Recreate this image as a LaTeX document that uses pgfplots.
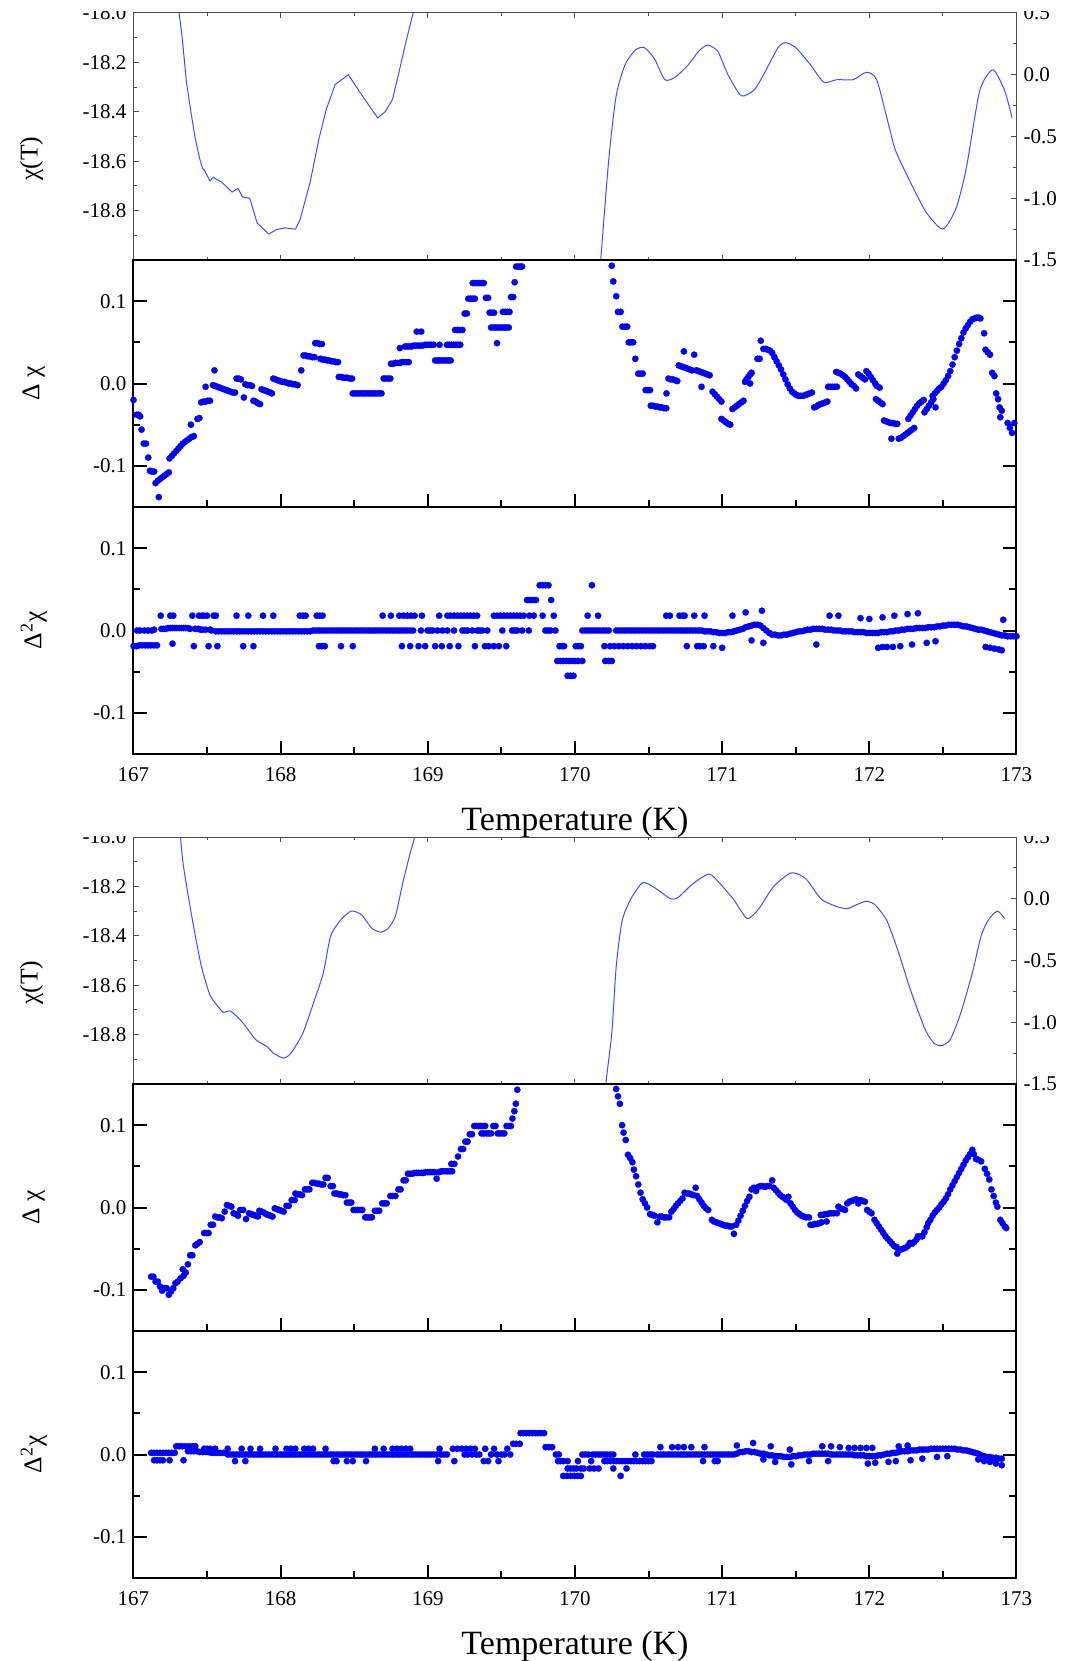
\documentclass[border=0pt]{standalone}
\usepackage{fontspec}
\setmainfont{Liberation Serif}
\usepackage{pgfplots}
\pgfplotsset{compat=1.18}
\definecolor{chiline}{RGB}{60,80,255}
\pgfkeys{/pgf/number format/assume math mode=true}
\pgfplotsset{
  base/.style={scale only axis, width=441.5pt, height=123.5pt, xmin=167, xmax=173,
    xtick={167,168,169,170,171,172,173}, minor xtick={167.5,168.5,169.5,170.5,171.5,172.5},
    tick align=inside, anchor=south west,
    tick label style={font=\fontsize{10.5}{12}\selectfont},
    xticklabel style={yshift=-3.3pt},
    yticklabel style={/pgf/number format/.cd, fixed, fixed zerofill, precision=1},
    xticklabels={167,168,169,170,171,172,173}},
  toppanel/.style={base, axis line style={black!70, line width=0.5pt},
    tick style={black!70, line width=0.5pt}, major tick length=2.6pt, minor tick length=1.6pt},
  dpanel/.style={base, axis line style={black, line width=1pt},
    tick style={black, line width=1pt}, major tick length=6.5pt, minor tick length=3.5pt,
    xtick pos=left, ytick pos=both, yticklabel pos=left, ymin=-0.15, ymax=0.15,
    ytick={-0.1,0,0.1}, minor ytick={-0.05,0.05}},
  dots/.style={only marks, mark=*, mark size=1.6pt, color=blue, mark options={draw=blue, fill=blue, line width=0.1pt}},
  chi/.style={no marks, color=chiline, line width=0.5pt},
  ylab/.style={ylabel style={at={(axis description cs:#1)}, anchor=center, font=\fontsize{12.8}{15}\selectfont}},
  xlab/.style={xlabel style={at={(axis description cs:0.5,-0.275)}, anchor=center, font=\fontsize{17}{20}\selectfont}},
}
\begin{document}
\begin{tikzpicture}
% ================= GROUP 1 =================
\begin{axis}[toppanel, at={(0pt,247pt)}, ymin=-19, ymax=-18,
  ytick={-18.8,-18.6,-18.4,-18.2,-18.0}, minor ytick={-18.9,-18.7,-18.5,-18.3,-18.1},
  ytick pos=left, xtick pos=both, xticklabels={}, ylabel={χ(T)}, ylab={-0.1155,0.41}]
\addplot[chi] coordinates {(167.25,-17.60) (167.31,-18.00) (167.33,-18.095) (167.36,-18.28) (167.39,-18.40) (167.42,-18.51) (167.45,-18.59) (167.47,-18.63) (167.48,-18.635) (167.52,-18.68) (167.54,-18.665) (167.60,-18.685) (167.67,-18.725) (167.71,-18.71) (167.74,-18.745) (167.79,-18.75) (167.84,-18.85) (167.92,-18.895) (167.97,-18.877) (168.03,-18.87) (168.10,-18.875) (168.13,-18.84) (168.20,-18.686) (168.26,-18.51) (168.31,-18.39) (168.37,-18.29) (168.46,-18.25) (168.56,-18.34) (168.66,-18.425) (168.71,-18.40) (168.76,-18.35) (168.80,-18.25) (168.85,-18.12) (168.90,-18.00) (168.95,-17.85)};
\addplot[chi, smooth, tension=0.4] coordinates {(170.15,-19.2) (170.175,-19.0) (170.23,-18.59) (170.28,-18.335) (170.34,-18.21) (170.41,-18.15) (170.47,-18.14) (170.54,-18.185) (170.61,-18.27) (170.68,-18.26) (170.77,-18.21) (170.84,-18.155) (170.90,-18.13) (170.97,-18.155) (171.04,-18.25) (171.13,-18.335) (171.22,-18.31) (171.29,-18.24) (171.38,-18.14) (171.43,-18.12) (171.50,-18.14) (171.60,-18.21) (171.69,-18.28) (171.78,-18.27) (171.89,-18.27) (171.98,-18.24) (172.05,-18.27) (172.13,-18.45) (172.18,-18.56) (172.30,-18.71) (172.39,-18.81) (172.50,-18.875) (172.59,-18.79) (172.66,-18.625) (172.75,-18.315) (172.84,-18.23) (172.92,-18.315) (172.97,-18.425)};
\end{axis}
\begin{axis}[toppanel, at={(0pt,247pt)}, ymin=-1.5, ymax=0.5, hide x axis, axis y line*=right,
  ytick={-1.5,-1,-0.5,0,0.5}, minor ytick={-1.25,-0.75,-0.25,0.25}]
\end{axis}
\begin{axis}[dpanel, at={(0pt,123.5pt)}, xticklabels={}, ylabel={Δ χ}, ylab={-0.113,0.5}]
\addplot[dots] coordinates {
(167.000,-0.020)(167.020,-0.038)(167.035,-0.038)(167.045,-0.040)(167.055,-0.056)(167.070,-0.073)(167.085,-0.073)(167.100,-0.090)(167.112,-0.106)(167.125,-0.107)(167.140,-0.107)(167.150,-0.121)(167.165,-0.118)(167.172,-0.138)(167.180,-0.116)(167.195,-0.114)(167.210,-0.112)(167.225,-0.110)(167.240,-0.108)
(167.245,-0.091)(167.260,-0.088)(167.275,-0.085)(167.290,-0.082)(167.305,-0.079)(167.320,-0.076)(167.335,-0.073)(167.350,-0.071)(167.365,-0.069)(167.380,-0.067)(167.395,-0.065)(167.410,-0.064)(167.390,-0.050)(167.435,-0.043)(167.448,-0.042)
(167.460,-0.023)(167.475,-0.022)(167.490,-0.022)(167.505,-0.021)(167.520,-0.021)(167.490,-0.004)(167.550,0.016)
(167.540,-0.002)(167.555,-0.003)(167.570,-0.004)(167.585,-0.005)(167.600,-0.006)(167.615,-0.007)(167.630,-0.008)(167.645,-0.009)(167.660,-0.010)(167.675,-0.011)(167.690,-0.011)
(167.700,0.006)(167.715,0.006)(167.730,0.005)(167.750,-0.017)(167.760,-0.001)(167.775,-0.002)(167.790,-0.002)(167.805,-0.003)
(167.815,-0.021)(167.830,-0.022)(167.845,-0.024)(167.860,-0.025)(167.870,-0.007)(167.885,-0.008)(167.900,-0.009)(167.915,-0.010)(167.930,-0.011)(167.940,-0.012)
(167.950,0.006)(167.965,0.005)(167.980,0.004)(167.995,0.003)(168.010,0.002)(168.025,0.002)(168.040,0.001)(168.055,0.000)(168.070,0.000)(168.085,-0.001)(168.100,-0.001)(168.115,-0.002)
(168.140,0.016)(168.155,0.034)(168.170,0.034)(168.185,0.033)(168.200,0.033)(168.215,0.032)(168.230,0.032)(168.235,0.049)(168.250,0.049)(168.265,0.048)(168.280,0.048)
(168.270,0.030)(168.285,0.029)(168.300,0.029)(168.315,0.028)(168.330,0.028)(168.345,0.027)(168.360,0.027)(168.375,0.026)(168.390,0.026)
(168.395,0.008)(168.410,0.008)(168.425,0.007)(168.440,0.007)(168.455,0.007)(168.470,0.006)(168.485,0.006)
(168.490,-0.012)(168.505,-0.012)(168.520,-0.012)(168.535,-0.012)(168.550,-0.012)(168.565,-0.012)(168.580,-0.012)(168.595,-0.012)(168.610,-0.012)(168.625,-0.012)(168.640,-0.012)(168.655,-0.012)(168.670,-0.012)(168.685,-0.012)
(168.700,0.006)(168.715,0.006)(168.730,0.006)(168.745,0.006)
(168.750,0.024)(168.765,0.024)(168.780,0.025)(168.795,0.025)(168.810,0.025)(168.825,0.026)(168.840,0.026)(168.855,0.026)(168.870,0.026)
(168.810,0.043)(168.845,0.045)(168.860,0.045)(168.875,0.045)(168.890,0.045)(168.905,0.046)(168.920,0.046)(168.935,0.046)(168.950,0.046)(168.965,0.046)(168.980,0.047)(168.995,0.047)(169.010,0.047)(169.025,0.047)(169.040,0.047)
(168.925,0.063)(168.955,0.063)
(169.050,0.028)(169.065,0.028)(169.080,0.028)(169.095,0.028)(169.110,0.028)(169.125,0.028)(169.140,0.028)(169.155,0.028)
(169.080,0.047)(169.130,0.047)(169.145,0.047)(169.160,0.047)(169.175,0.047)(169.190,0.047)(169.205,0.047)(169.220,0.047)
(169.185,0.065)(169.200,0.065)(169.215,0.065)(169.235,0.065)(169.250,0.085)(169.265,0.085)
(169.275,0.103)(169.290,0.103)(169.305,0.103)(169.320,0.103)
(169.305,0.122)(169.320,0.122)(169.335,0.122)(169.350,0.122)(169.365,0.122)(169.380,0.122)
(169.395,0.104)(169.410,0.104)(169.420,0.086)(169.435,0.086)(169.450,0.086)
(169.430,0.068)(169.445,0.068)(169.460,0.068)(169.475,0.068)(169.490,0.068)(169.505,0.068)(169.520,0.068)(169.535,0.068)(169.550,0.068)
(169.470,0.049)(169.510,0.087)(169.525,0.087)(169.540,0.087)(169.555,0.087)(169.565,0.105)(169.580,0.105)(169.590,0.123)
(169.600,0.142)(169.615,0.142)(169.630,0.142)(169.640,0.142)
(170.250,0.143)(170.260,0.124)(170.280,0.106)(170.292,0.087)(170.310,0.087)(170.322,0.069)(170.340,0.069)(170.355,0.069)
(170.365,0.050)(170.380,0.050)(170.395,0.050)(170.410,0.030)(170.430,0.012)(170.445,0.012)(170.460,0.012)
(170.480,-0.008)(170.495,-0.008)(170.510,-0.008)
(170.515,-0.027)(170.530,-0.027)(170.545,-0.028)(170.560,-0.028)(170.575,-0.029)(170.590,-0.029)(170.605,-0.030)(170.620,-0.030)(170.622,-0.012)
(170.635,0.006)(170.650,0.005)(170.665,0.005)(170.680,0.004)(170.695,0.003)
(170.705,0.022)(170.720,0.021)(170.735,0.020)(170.750,0.019)(170.765,0.018)(170.780,0.017)(170.795,0.016)(170.740,0.039)(170.810,0.035)
(170.825,0.016)(170.840,0.015)(170.855,0.014)(170.870,0.013)(170.885,0.012)(170.900,0.011)(170.915,0.010)(170.860,-0.004)
(170.935,-0.010)(170.950,-0.013)(170.965,-0.016)(170.980,-0.019)(170.995,-0.022)
(170.995,-0.043)(171.010,-0.045)(171.025,-0.047)(171.040,-0.049)(171.055,-0.050)
(171.070,-0.031)(171.085,-0.029)(171.100,-0.027)(171.115,-0.025)(171.130,-0.023)(171.145,-0.021)
(171.155,0.002)(171.165,0.005)(171.178,0.008)(171.190,0.011)(171.200,0.013)(171.190,0.000)(171.240,0.030)(171.255,0.030)(171.262,0.052)
(171.280,0.042)(171.295,0.042)(171.310,0.041)(171.325,0.040)(171.340,0.037)(171.355,0.032)(171.370,0.027)(171.385,0.022)(171.400,0.017)(171.415,0.011)(171.430,0.005)(171.445,-0.001)(171.460,-0.006)(171.475,-0.010)(171.490,-0.012)(171.505,-0.014)(171.520,-0.015)(171.535,-0.015)(171.550,-0.015)(171.565,-0.014)(171.580,-0.013)(171.595,-0.012)(171.610,-0.011)
(171.625,-0.029)(171.640,-0.028)(171.655,-0.026)(171.670,-0.025)(171.685,-0.024)(171.700,-0.023)(171.715,-0.022)
(171.720,-0.004)(171.735,-0.004)(171.750,-0.004)(171.765,-0.004)(171.780,-0.004)
(171.775,0.014)(171.790,0.013)(171.805,0.012)(171.820,0.010)(171.835,0.008)(171.850,0.005)(171.865,0.002)(171.880,-0.001)(171.895,-0.003)(171.910,-0.006)
(171.925,0.011)(171.940,0.009)(171.955,0.007)(171.970,0.005)(171.980,0.015)(171.995,0.012)(172.010,0.008)(172.025,0.004)(172.040,0.000)(172.050,-0.003)(172.070,-0.005)
(172.045,-0.019)(172.060,-0.021)(172.075,-0.023)(172.090,-0.025)
(172.100,-0.045)(172.115,-0.046)(172.130,-0.047)(172.145,-0.048)(172.160,-0.048)(172.175,-0.049)(172.190,-0.049)
(172.150,-0.067)(172.200,-0.067)(172.215,-0.066)(172.230,-0.064)(172.245,-0.062)(172.260,-0.060)(172.275,-0.058)(172.290,-0.056)(172.305,-0.054)
(172.265,-0.043)(172.280,-0.039)(172.295,-0.035)(172.310,-0.031)(172.325,-0.027)(172.340,-0.024)(172.355,-0.022)(172.370,-0.020)
(172.375,-0.035)(172.390,-0.031)(172.405,-0.027)(172.420,-0.023)(172.435,-0.019)(172.450,-0.029)
(172.430,-0.015)(172.445,-0.012)(172.460,-0.009)(172.475,-0.006)(172.490,-0.004)(172.505,0.000)(172.520,0.004)(172.535,0.009)(172.550,0.015)(172.565,0.023)(172.580,0.032)(172.595,0.040)(172.610,0.048)(172.625,0.055)(172.640,0.062)(172.655,0.067)(172.670,0.071)(172.685,0.075)(172.700,0.078)(172.715,0.079)(172.730,0.080)(172.745,0.080)(172.755,0.079)
(172.780,0.061)(172.790,0.041)(172.805,0.038)(172.820,0.035)(172.835,0.013)(172.850,0.009)(172.862,-0.012)(172.875,-0.019)(172.885,-0.029)(172.900,-0.033)(172.890,-0.041)
(172.940,-0.048)(172.955,-0.054)(172.970,-0.060)(172.985,-0.048)};
\end{axis}
\begin{axis}[dpanel, at={(0pt,0pt)}, xlabel={Temperature (K)}, xlab, ylabel={Δ\textsuperscript{2}χ}, ylab={-0.113,0.5}]
\addplot[dots] coordinates {
(167.000,-0.019)(167.020,-0.019)(167.040,-0.018)(167.060,-0.018)(167.080,-0.018)(167.100,-0.018)(167.120,-0.018)(167.140,-0.018)(167.160,-0.018)
(167.025,0.000)(167.045,0.000)(167.075,0.000)(167.100,0.000)(167.125,0.000)(167.140,0.001)
(167.185,0.018)(167.190,0.002)(167.205,0.002)(167.220,0.002)(167.265,-0.016)(167.250,0.018)(167.270,0.018)
(167.235,0.003)(167.250,0.003)(167.265,0.003)(167.280,0.003)(167.295,0.003)(167.310,0.003)(167.325,0.003)(167.340,0.003)(167.355,0.003)(167.370,0.003)(167.385,0.002)
(167.400,0.018)(167.410,-0.019)
(167.420,0.002)(167.440,0.002)(167.455,0.001)(167.470,0.001)(167.490,0.001)(167.520,0.001)(167.530,0.000)
(167.445,0.018)(167.465,0.018)(167.480,0.018)(167.500,0.018)(167.510,-0.019)(167.545,0.018)(167.560,0.018)(167.570,-0.019)
(167.56,-0.001)(167.58,-0.001)(167.60,-0.001)(167.62,-0.001)(167.64,-0.001)(167.66,-0.001)(167.68,-0.001)(167.70,-0.001)(167.72,-0.001)(167.74,-0.001)(167.76,-0.001)(167.78,-0.001)(167.80,-0.001)(167.82,-0.001)(167.84,-0.001)(167.86,-0.001)(167.88,-0.001)(167.90,-0.001)(167.92,-0.001)(167.94,-0.001)(167.96,-0.001)(167.98,-0.001)(168.00,-0.001)(168.02,-0.001)(168.04,-0.001)(168.06,-0.001)(168.08,-0.001)(168.10,-0.001)(168.12,-0.001)(168.14,-0.001)(168.16,-0.001)(168.18,-0.001)(168.20,-0.001)
(167.700,0.018)(167.780,0.018)(167.880,0.018)(167.950,0.018)(167.745,-0.019)(167.815,-0.019)
(168.130,0.018)(168.150,0.018)(168.170,0.018)(168.245,0.018)(168.265,0.018)(168.285,0.018)
(168.260,-0.019)(168.280,-0.019)(168.300,-0.019)(168.410,-0.019)(168.490,-0.019)
(168.22,0.000)(168.24,0.000)(168.26,0.000)(168.28,0.000)(168.30,0.000)(168.32,0.000)(168.34,0.000)(168.36,0.000)(168.38,0.000)(168.40,0.000)(168.42,0.000)(168.44,0.000)(168.46,0.000)(168.48,0.000)(168.50,0.000)(168.52,0.000)(168.54,0.000)(168.56,0.000)(168.58,0.000)(168.60,0.000)(168.62,0.000)(168.64,0.000)(168.66,0.000)(168.68,0.000)(168.70,0.000)(168.72,0.000)(168.74,0.000)(168.76,0.000)(168.78,0.000)(168.80,0.000)(168.82,0.000)(168.84,0.000)(168.86,0.000)(168.88,0.000)(168.90,0.000)
(168.693,0.018)(168.749,0.018)(168.806,0.018)(168.835,0.018)(168.860,0.018)(168.885,0.018)(168.910,0.018)(168.960,0.018)
(168.824,-0.019)(168.880,-0.019)(168.937,-0.019)(168.982,-0.019)
(168.953,0.000)(168.998,0.000)(169.015,0.000)(169.032,0.000)(169.065,0.000)(169.099,0.000)(169.133,0.000)(169.178,0.000)(169.235,0.000)(169.252,0.000)(169.269,0.000)(169.302,0.000)(169.336,0.000)(169.353,0.000)(169.370,0.000)(169.404,0.000)(169.506,0.000)(169.573,0.000)(169.590,0.000)(169.607,0.000)(169.641,0.000)(169.686,0.000)(169.799,0.000)(169.816,0.000)(169.833,0.000)(169.867,0.000)
(169.077,0.018)(169.133,0.018)(169.155,0.018)(169.178,0.018)(169.200,0.018)(169.223,0.018)(169.245,0.018)(169.268,0.018)(169.290,0.018)(169.313,0.018)(169.335,0.018)
(169.449,0.018)(169.471,0.018)(169.494,0.018)(169.517,0.018)(169.539,0.018)(169.562,0.018)(169.584,0.018)(169.607,0.018)(169.629,0.018)(169.652,0.018)(169.690,0.018)(169.720,0.018)(169.780,0.018)(169.856,0.018)
(169.050,-0.019)(169.095,-0.019)(169.149,-0.019)(169.208,-0.019)(169.320,-0.019)(169.388,-0.019)(169.415,-0.019)(169.449,-0.019)(169.483,-0.019)(169.533,-0.019)
(169.674,0.037)(169.694,0.037)(169.714,0.037)(169.735,0.037)(169.838,0.037)
(169.760,0.055)(169.780,0.055)(169.800,0.055)(169.820,0.055)
(169.895,-0.019)(169.912,-0.019)(169.926,-0.019)(170.005,-0.019)(170.022,-0.019)(170.040,-0.019)
(169.880,-0.037)(169.900,-0.037)(169.920,-0.037)(169.940,-0.037)(169.960,-0.037)(169.980,-0.037)(170.000,-0.037)(170.020,-0.037)(170.050,-0.037)
(169.950,-0.055)(169.970,-0.055)(169.990,-0.055)
(170.05,0.000)(170.07,0.000)(170.09,0.000)(170.11,0.000)(170.13,0.000)(170.15,0.000)(170.17,0.000)(170.19,0.000)(170.21,0.000)(170.23,0.000)
(170.086,0.018)(170.157,0.018)(170.115,0.055)
(170.200,-0.019)(170.206,-0.037)(170.228,-0.037)(170.250,-0.037)
(170.238,-0.019)(170.268,-0.019)(170.298,-0.019)(170.328,-0.019)(170.358,-0.019)(170.388,-0.019)(170.418,-0.019)(170.448,-0.019)(170.478,-0.019)(170.508,-0.019)(170.530,-0.019)
(170.28,0.000)(170.30,0.000)(170.32,0.000)(170.34,0.000)(170.36,0.000)(170.38,0.000)(170.40,0.000)(170.42,0.000)(170.44,0.000)(170.46,0.000)(170.48,0.000)(170.50,0.000)(170.52,0.000)(170.54,0.000)(170.56,0.000)(170.58,0.000)(170.60,0.000)(170.62,0.000)(170.64,0.000)(170.66,0.000)(170.68,0.000)(170.70,0.000)(170.72,0.000)(170.74,0.000)(170.76,0.000)(170.78,0.000)(170.80,0.000)(170.82,0.000)(170.84,0.000)
(170.620,0.018)(170.645,0.018)(170.710,0.018)(170.730,0.018)(170.745,0.018)(170.810,0.018)(170.880,0.018)
(170.760,-0.019)(170.830,-0.019)(170.850,-0.019)(170.875,-0.019)(170.940,-0.019)(171.000,-0.021)
(170.86,0.000)(170.88,-0.001)(170.90,-0.001)(170.92,-0.001)(170.94,-0.002)(170.96,-0.002)(170.98,-0.003)(171.00,-0.003)(171.02,-0.003)(171.04,-0.002)(171.06,-0.002)(171.08,-0.001)(171.10,0.000)(171.12,0.001)(171.14,0.002)(171.16,0.004)(171.18,0.005)(171.20,0.006)(171.22,0.007)(171.24,0.007)(171.26,0.006)(171.28,0.003)(171.30,0.000)(171.32,-0.003)(171.34,-0.005)(171.36,-0.005)(171.38,-0.006)(171.40,-0.006)(171.42,-0.005)(171.44,-0.005)(171.46,-0.004)(171.48,-0.003)(171.50,-0.002)(171.52,-0.001)(171.54,-0.001)(171.56,0.000)(171.58,0.001)(171.60,0.001)(171.62,0.002)(171.64,0.002)(171.66,0.002)(171.68,0.002)(171.70,0.001)(171.72,0.001)(171.74,0.001)(171.76,0.000)(171.78,0.000)(171.80,0.000)(171.82,-0.001)(171.84,-0.001)(171.86,-0.001)(171.88,-0.001)(171.90,-0.002)(171.92,-0.002)(171.94,-0.002)(171.96,-0.002)(171.98,-0.003)(172.00,-0.003)(172.02,-0.003)(172.04,-0.003)(172.06,-0.003)(172.08,-0.002)(172.10,-0.002)(172.12,-0.002)(172.14,-0.001)(172.16,-0.001)(172.18,0.000)(172.20,0.000)(172.22,0.001)(172.24,0.001)(172.26,0.002)(172.28,0.002)(172.30,0.002)(172.32,0.003)(172.34,0.003)(172.36,0.003)(172.38,0.003)(172.40,0.004)(172.42,0.004)(172.44,0.004)(172.46,0.005)(172.48,0.005)(172.50,0.006)(172.52,0.006)(172.54,0.007)(172.56,0.007)(172.58,0.007)(172.60,0.007)(172.62,0.006)(172.64,0.005)(172.66,0.005)(172.68,0.004)(172.70,0.003)(172.72,0.002)(172.74,0.001)(172.76,0.001)(172.78,0.000)(172.80,-0.001)(172.82,-0.002)(172.84,-0.003)(172.86,-0.004)(172.88,-0.005)(172.90,-0.006)(172.92,-0.006)(172.94,-0.007)(172.96,-0.007)(172.98,-0.007)(173.00,-0.007)
(171.07,0.018)(171.16,0.022)(171.27,0.024)(171.20,-0.012)(171.28,-0.015)(171.64,-0.017)(171.73,0.018)(171.79,0.018)(171.94,0.015)(172.00,0.014)(172.09,0.016)(172.17,0.018)(172.26,0.020)(172.33,0.021)
(172.06,-0.021)(172.09,-0.020)(172.12,-0.020)(172.16,-0.020)(172.21,-0.019)(172.29,-0.017)(172.39,-0.015)(172.45,-0.013)
(172.79,-0.020)(172.82,-0.021)(172.85,-0.022)(172.88,-0.023)(172.90,-0.024)(172.91,0.013)};
\end{axis}
% ================= GROUP 2 =================
\begin{axis}[toppanel, at={(0pt,-165pt)}, ymin=-19, ymax=-18,
  ytick={-18.8,-18.6,-18.4,-18.2,-18.0}, minor ytick={-18.9,-18.7,-18.5,-18.3,-18.1},
  ytick pos=left, xtick pos=both, xticklabels={}, ylabel={χ(T)}, ylab={-0.1155,0.41}]
\addplot[chi, smooth, tension=0.4] coordinates {(167.27,-17.60) (167.32,-18.0) (167.34,-18.12) (167.40,-18.335) (167.46,-18.52) (167.52,-18.64) (167.58,-18.69) (167.61,-18.71) (167.66,-18.705) (167.74,-18.75) (167.83,-18.82) (167.91,-18.85) (167.95,-18.875) (168.02,-18.895) (168.07,-18.875) (168.15,-18.795) (168.23,-18.66) (168.29,-18.55) (168.34,-18.40) (168.41,-18.335) (168.48,-18.30) (168.55,-18.315) (168.62,-18.37) (168.68,-18.385) (168.73,-18.37) (168.78,-18.32) (168.83,-18.185) (168.88,-18.065) (168.91,-18.0) (168.95,-17.85)};
\addplot[chi, smooth, tension=0.4] coordinates {(170.19,-19.2) (170.21,-19.0) (170.25,-18.795) (170.28,-18.525) (170.32,-18.34) (170.38,-18.25) (170.46,-18.185) (170.54,-18.205) (170.65,-18.25) (170.70,-18.245) (170.80,-18.19) (170.91,-18.15) (170.98,-18.185) (171.08,-18.255) (171.17,-18.33) (171.25,-18.29) (171.35,-18.20) (171.47,-18.145) (171.57,-18.17) (171.67,-18.25) (171.77,-18.28) (171.85,-18.29) (171.91,-18.275) (171.98,-18.26) (172.04,-18.275) (172.12,-18.34) (172.20,-18.47) (172.28,-18.62) (172.38,-18.78) (172.44,-18.835) (172.49,-18.845) (172.55,-18.82) (172.62,-18.715) (172.70,-18.55) (172.76,-18.40) (172.81,-18.335) (172.87,-18.30) (172.92,-18.33)};
\end{axis}
\begin{axis}[toppanel, at={(0pt,-165pt)}, ymin=-1.5, ymax=0.5, hide x axis, axis y line*=right,
  ytick={-1.5,-1,-0.5,0,0.5}, minor ytick={-1.25,-0.75,-0.25,0.25}]
\end{axis}
\begin{axis}[dpanel, at={(0pt,-288.5pt)}, xticklabels={}, ylabel={Δ χ}, ylab={-0.113,0.5}]
\addplot[dots] coordinates {
(167.120,-0.084)(167.135,-0.084)(167.150,-0.090)(167.165,-0.090)(167.180,-0.096)(167.195,-0.101)(167.210,-0.098)(167.225,-0.098)(167.240,-0.106)(167.255,-0.102)(167.270,-0.098)(167.285,-0.092)(167.300,-0.090)(167.320,-0.086)(167.335,-0.075)(167.340,-0.083)(167.355,-0.079)(167.370,-0.069)(167.385,-0.058)(167.400,-0.058)
(167.420,-0.046)(167.435,-0.044)(167.450,-0.042)(167.480,-0.031)(167.495,-0.031)(167.510,-0.031)(167.525,-0.021)(167.540,-0.021)(167.555,-0.011)(167.570,-0.012)(167.585,-0.012)(167.600,-0.013)(167.620,-0.005)
(167.635,0.003)(167.650,0.002)(167.665,0.001)(167.680,-0.007)(167.695,-0.008)(167.710,-0.010)(167.725,-0.003)(167.745,-0.003)(167.765,-0.014)
(167.785,-0.007)(167.800,-0.008)(167.815,-0.009)(167.830,-0.010)(167.845,-0.011)(167.855,-0.004)(167.870,-0.005)(167.885,-0.006)(167.900,-0.008)(167.915,-0.009)(167.930,-0.010)(167.945,-0.011)
(167.960,-0.001)(167.975,-0.002)(167.990,-0.003)(168.005,-0.004)(168.020,-0.005)(168.040,0.002)(168.055,0.002)(168.075,0.009)(168.095,0.009)
(168.100,0.017)(168.115,0.016)(168.130,0.016)(168.145,0.015)(168.165,0.022)(168.180,0.022)(168.195,0.022)
(168.215,0.030)(168.230,0.030)(168.245,0.029)(168.260,0.029)(168.275,0.028)(168.290,0.028)(168.305,0.036)(168.320,0.036)(168.340,0.026)(168.355,0.026)
(168.365,0.017)(168.380,0.017)(168.395,0.016)(168.410,0.016)(168.425,0.015)(168.440,0.015)(168.450,0.006)(168.465,0.006)(168.480,0.006)
(168.495,-0.003)(168.510,-0.003)(168.525,-0.003)(168.540,-0.003)(168.555,-0.003)(168.575,-0.012)(168.590,-0.012)(168.605,-0.012)(168.620,-0.012)
(168.640,-0.004)(168.655,-0.004)(168.670,-0.004)(168.690,0.005)(168.705,0.005)(168.720,0.005)(168.745,0.014)(168.760,0.014)(168.780,0.014)
(168.800,0.022)(168.815,0.022)(168.835,0.033)(168.850,0.033)(168.865,0.041)(168.880,0.041)
(168.895,0.041)(168.910,0.042)(168.925,0.042)(168.940,0.042)(168.955,0.042)(168.970,0.042)(168.985,0.043)(169.000,0.043)(169.015,0.043)(169.030,0.043)(169.045,0.043)(169.060,0.035)(169.075,0.043)(169.090,0.044)(169.105,0.044)(169.120,0.044)(169.135,0.044)(169.150,0.044)(169.165,0.044)
(169.160,0.053)(169.180,0.053)(169.205,0.062)(169.225,0.071)(169.240,0.071)(169.255,0.080)(169.270,0.080)(169.285,0.089)(169.300,0.089)
(169.315,0.099)(169.330,0.099)(169.345,0.099)(169.360,0.099)(169.375,0.099)(169.390,0.099)
(169.365,0.090)(169.380,0.090)(169.400,0.090)(169.415,0.090)(169.430,0.090)(169.445,0.099)(169.460,0.099)(169.475,0.090)(169.490,0.090)(169.505,0.090)(169.520,0.090)(169.535,0.099)(169.550,0.099)(169.565,0.099)
(169.575,0.108)(169.588,0.117)(169.598,0.126)(169.608,0.143)
(170.280,0.144)(170.292,0.135)(170.305,0.126)(170.320,0.100)(170.330,0.091)(170.345,0.082)(170.360,0.064)(170.375,0.060)(170.390,0.055)(170.400,0.046)(170.415,0.038)(170.430,0.028)(170.445,0.018)(170.460,0.010)(170.475,0.005)(170.490,0.000)
(170.510,-0.008)(170.525,-0.009)(170.540,-0.010)(170.560,-0.018)(170.575,-0.011)(170.590,-0.011)(170.605,-0.012)(170.620,-0.012)(170.640,-0.012)
(170.655,-0.005)(170.670,-0.002)(170.685,0.002)(170.700,0.005)(170.715,0.008)(170.730,0.011)(170.745,0.018)(170.760,0.017)(170.775,0.017)(170.790,0.016)(170.805,0.015)(170.820,0.024)
(170.830,0.014)(170.845,0.010)(170.860,0.006)(170.875,0.002)(170.890,-0.001)(170.905,-0.003)
(170.930,-0.015)(170.945,-0.017)(170.960,-0.018)(170.975,-0.019)(170.990,-0.020)(171.005,-0.021)(171.020,-0.022)(171.035,-0.022)(171.050,-0.023)(171.065,-0.023)(171.080,-0.032)
(171.095,-0.021)(171.110,-0.016)(171.125,-0.010)(171.140,-0.004)(171.155,0.002)(171.170,0.008)(171.185,0.013)(171.200,0.022)(171.215,0.024)(171.230,0.020)(171.245,0.025)(171.260,0.026)(171.275,0.026)(171.290,0.025)(171.305,0.026)(171.320,0.026)(171.340,0.033)
(171.350,0.024)(171.365,0.021)(171.380,0.018)(171.395,0.015)(171.410,0.013)(171.425,0.011)(171.440,0.009)(171.450,0.013)(171.465,0.005)(171.480,0.001)(171.495,-0.003)(171.510,-0.006)(171.525,-0.008)(171.540,-0.010)(171.555,-0.011)(171.570,-0.012)(171.590,-0.012)
(171.600,-0.021)(171.615,-0.021)(171.630,-0.020)(171.645,-0.020)(171.660,-0.019)(171.675,-0.018)(171.710,-0.017)
(171.670,-0.009)(171.685,-0.009)(171.700,-0.008)(171.715,-0.008)(171.730,-0.007)(171.745,-0.007)(171.760,-0.007)(171.780,-0.007)
(171.790,0.001)(171.805,-0.001)(171.820,-0.002)(171.835,-0.003)(171.850,0.005)(171.865,0.007)(171.880,0.008)(171.895,0.009)(171.910,0.010)(171.925,0.005)(171.940,0.009)(171.955,0.008)(171.970,0.007)
(171.985,-0.003)(172.000,-0.005)(172.015,-0.007)(172.035,-0.015)(172.050,-0.019)(172.065,-0.023)(172.080,-0.027)(172.095,-0.031)(172.110,-0.035)(172.125,-0.038)(172.140,-0.041)(172.155,-0.044)(172.170,-0.047)(172.185,-0.048)(172.190,-0.056)
(172.200,-0.052)(172.215,-0.051)(172.230,-0.050)(172.245,-0.049)(172.260,-0.047)(172.275,-0.043)(172.290,-0.044)(172.305,-0.042)(172.320,-0.039)(172.330,-0.035)(172.345,-0.035)(172.360,-0.035)
(172.375,-0.030)(172.390,-0.024)(172.400,-0.019)(172.415,-0.015)(172.430,-0.010)(172.445,-0.006)(172.460,-0.003)(172.475,0.000)(172.490,0.004)(172.505,0.007)(172.520,0.011)(172.535,0.016)(172.550,0.022)(172.565,0.027)(172.580,0.032)(172.595,0.037)(172.610,0.042)(172.625,0.047)(172.640,0.052)(172.655,0.057)(172.670,0.061)(172.685,0.065)(172.700,0.070)
(172.710,0.065)(172.725,0.059)(172.740,0.058)(172.760,0.056)(172.785,0.047)(172.800,0.041)(172.815,0.034)(172.830,0.022)(172.845,0.014)(172.860,0.006)(172.870,0.001)(172.890,-0.015)(172.905,-0.019)(172.920,-0.023)(172.930,-0.025)};
\end{axis}
\begin{axis}[dpanel, at={(0pt,-412pt)}, xlabel={Temperature (K)}, xlab, ylabel={Δ\textsuperscript{2}χ}, ylab={-0.113,0.5}]
\addplot[dots] coordinates {
(167.120,0.002)(167.140,0.002)(167.160,0.002)(167.180,0.002)(167.200,0.002)(167.220,0.002)(167.240,0.002)(167.260,0.002)(167.280,0.002)
(167.140,-0.007)(167.160,-0.007)(167.180,-0.007)(167.200,-0.007)(167.245,-0.007)(167.340,-0.007)
(167.290,0.010)(167.310,0.010)(167.330,0.010)(167.355,0.010)(167.380,0.010)(167.405,0.010)(167.420,0.010)
(167.370,0.004)(167.390,0.004)(167.410,0.004)(167.430,0.004)(167.450,0.003)(167.470,0.003)(167.490,0.003)(167.510,0.003)(167.530,0.002)(167.550,0.002)(167.570,0.002)(167.590,0.002)(167.610,0.002)
(167.480,0.007)(167.500,0.007)(167.520,0.007)(167.555,0.007)(167.640,0.007)(167.690,-0.008)(167.760,-0.008)
(167.64,0.000)(167.66,0.000)(167.68,0.000)(167.70,0.000)(167.72,0.000)(167.74,0.000)(167.76,0.000)(167.78,0.000)(167.80,0.000)(167.82,0.000)(167.84,0.000)(167.86,0.000)(167.88,0.000)(167.90,0.000)(167.92,0.000)(167.94,0.000)(167.96,0.000)(167.98,0.000)(168.00,0.000)(168.02,0.000)(168.04,0.000)(168.06,0.000)(168.08,0.000)(168.10,0.000)(168.12,0.000)(168.14,0.000)(168.16,0.000)(168.18,0.000)(168.20,0.000)(168.22,0.000)(168.24,0.000)(168.26,0.000)(168.28,0.000)(168.30,0.000)(168.32,0.000)(168.34,0.000)(168.36,0.000)(168.38,0.000)(168.40,0.000)(168.42,0.000)(168.44,0.000)(168.46,0.000)(168.48,0.000)(168.50,0.000)(168.52,0.000)(168.54,0.000)(168.56,0.000)(168.58,0.000)(168.60,0.000)(168.62,0.000)(168.64,0.000)(168.66,0.000)(168.68,0.000)(168.70,0.000)(168.72,0.000)(168.74,0.000)(168.76,0.000)(168.78,0.000)(168.80,0.000)(168.82,0.000)(168.84,0.000)(168.86,0.000)(168.88,0.000)(168.90,0.000)(168.92,0.000)(168.94,0.000)(168.96,0.000)(168.98,0.000)(169.00,0.000)(169.02,0.000)(169.04,0.000)(169.06,0.000)
(167.735,0.007)(167.795,0.007)(167.860,0.007)(167.965,0.007)(168.040,0.007)(168.070,0.007)(168.100,0.007)(168.160,0.007)(168.190,0.007)(168.220,0.007)(168.305,0.007)
(168.360,-0.008)(168.380,-0.008)(168.450,-0.008)(168.490,-0.008)(168.580,-0.008)
(168.640,0.007)(168.700,0.007)(168.760,0.007)(168.790,0.007)(168.820,0.007)(168.850,0.007)(168.880,0.007)
(169.070,-0.008)(169.180,-0.008)(169.380,-0.008)(169.410,-0.008)(169.480,-0.008)
(169.080,0.007)(169.170,0.007)(169.200,0.007)(169.230,0.007)(169.260,0.007)(169.290,0.007)(169.320,0.007)(169.390,0.007)(169.450,0.007)(169.540,0.007)
(169.090,0.000)(169.110,0.000)(169.130,0.000)(169.250,0.000)(169.270,0.000)(169.300,0.000)(169.330,0.000)(169.350,0.000)(169.430,0.000)(169.470,0.000)(169.500,0.000)(169.520,0.000)(169.560,0.000)
(169.580,0.013)(169.600,0.013)(169.625,0.013)
(169.630,0.026)(169.650,0.026)(169.670,0.026)(169.690,0.026)(169.710,0.026)(169.730,0.026)(169.750,0.026)(169.770,0.026)(169.790,0.026)
(169.800,0.009)(169.820,0.009)(169.845,0.009)(169.870,0.000)(169.890,0.000)
(169.885,-0.008)(169.900,-0.008)(169.920,-0.008)(169.950,-0.008)
(169.950,-0.017)(169.970,-0.017)(169.990,-0.017)(170.010,-0.017)(170.040,-0.017)(170.060,-0.017)
(169.920,-0.026)(169.945,-0.026)(169.970,-0.026)(169.995,-0.026)(170.020,-0.026)(170.040,-0.026)
(170.020,-0.008)(170.110,-0.008)(170.100,-0.017)(170.130,-0.017)(170.160,-0.017)
(170.050,0.000)(170.070,0.000)(170.090,0.000)(170.120,0.000)(170.140,0.000)(170.160,0.000)(170.180,0.000)(170.200,0.000)(170.220,0.000)(170.240,0.000)(170.260,0.000)
(170.200,-0.008)(170.220,-0.008)(170.240,-0.008)(170.260,-0.008)(170.280,-0.008)(170.300,-0.008)(170.320,-0.008)(170.340,-0.008)(170.360,-0.008)(170.380,-0.008)(170.400,-0.008)(170.420,-0.008)(170.440,-0.008)(170.460,-0.008)(170.480,-0.008)(170.500,-0.008)(170.520,-0.008)
(170.260,-0.017)(170.350,-0.017)(170.310,-0.026)
(170.410,0.000)(170.470,0.000)(170.490,0.000)(170.510,0.000)(170.530,0.000)
(170.580,0.009)(170.660,0.009)(170.700,0.009)(170.740,0.009)(170.790,0.009)(170.880,0.009)
(170.56,0.000)(170.58,0.000)(170.60,0.000)(170.62,0.000)(170.64,0.000)(170.66,0.000)(170.68,0.000)(170.70,0.000)(170.72,0.000)(170.74,0.000)(170.76,0.000)(170.78,0.000)(170.80,0.000)(170.82,0.000)(170.84,0.000)(170.86,0.000)(170.88,0.000)(170.90,0.000)(170.92,0.000)(170.94,0.000)(170.96,0.000)(170.98,0.000)(171.00,0.000)(171.02,0.000)(171.04,0.000)(171.06,0.000)
(170.870,-0.008)(170.950,-0.008)(170.970,-0.008)
(171.08,0.000)(171.10,0.001)(171.12,0.003)(171.14,0.003)(171.16,0.004)(171.18,0.004)(171.20,0.003)(171.22,0.003)(171.24,0.002)(171.26,0.001)(171.28,0.001)(171.30,0.000)(171.32,-0.001)(171.34,-0.001)(171.36,-0.002)(171.38,-0.002)(171.40,-0.002)(171.42,-0.003)(171.44,-0.003)(171.46,-0.003)(171.48,-0.002)(171.50,-0.002)(171.52,-0.001)(171.54,-0.001)(171.56,0.000)(171.58,0.000)(171.60,0.000)(171.62,0.001)(171.64,0.001)(171.66,0.001)(171.68,0.001)(171.70,0.001)(171.72,0.001)(171.74,0.000)(171.76,0.000)(171.78,0.000)(171.80,0.000)(171.82,0.000)(171.84,0.000)(171.86,0.000)(171.88,0.000)(171.90,-0.001)(171.92,-0.001)(171.94,-0.001)(171.96,-0.001)(171.98,-0.002)(172.00,-0.002)(172.02,-0.002)(172.04,-0.002)(172.06,-0.001)(172.08,-0.001)(172.10,0.000)(172.12,0.001)(172.14,0.001)(172.16,0.002)(172.18,0.002)(172.20,0.003)(172.22,0.004)(172.24,0.004)(172.26,0.004)(172.28,0.005)(172.30,0.005)(172.32,0.005)(172.34,0.006)(172.36,0.006)(172.38,0.006)(172.40,0.006)(172.42,0.007)(172.44,0.007)(172.46,0.007)(172.48,0.007)(172.50,0.007)(172.52,0.007)(172.54,0.007)(172.56,0.007)(172.58,0.007)(172.60,0.006)(172.62,0.006)(172.64,0.005)(172.66,0.005)(172.68,0.004)(172.70,0.003)(172.72,0.002)(172.74,0.001)(172.76,-0.001)(172.78,-0.002)(172.80,-0.003)(172.82,-0.003)(172.84,-0.004)(172.86,-0.004)(172.88,-0.005)(172.90,-0.005)
(171.10,0.011)(171.21,0.014)(171.28,-0.006)(171.33,0.010)(171.36,-0.009)(171.46,0.006)(171.47,-0.012)(171.59,-0.008)(171.68,0.010)(171.74,0.010)(171.72,-0.008)(171.80,0.009)(171.86,0.008)(171.90,0.008)(171.94,0.008)(171.98,0.008)(172.02,0.008)
(171.99,-0.011)(172.04,-0.010)(172.13,-0.009)(172.18,-0.008)(172.20,0.010)(172.26,0.011)(172.28,-0.007)(172.36,-0.005)(172.46,-0.003)(172.53,-0.002)
(172.74,-0.006)(172.78,-0.008)(172.82,-0.009)(172.86,-0.011)(172.90,-0.013)};
\end{axis}
\fill[white] (-66.75pt,371.3pt) rectangle (465.75pt,385pt);
\fill[white] (-66.75pt,-40.8pt) rectangle (-0.6pt,-32pt);
\fill[white] (442.1pt,-40.8pt) rectangle (465.75pt,-32pt);
\pgfresetboundingbox
\path[use as bounding box] (-66.75pt,-453.5pt) rectangle (465.75pt,377pt);
\end{tikzpicture}
\end{document}
